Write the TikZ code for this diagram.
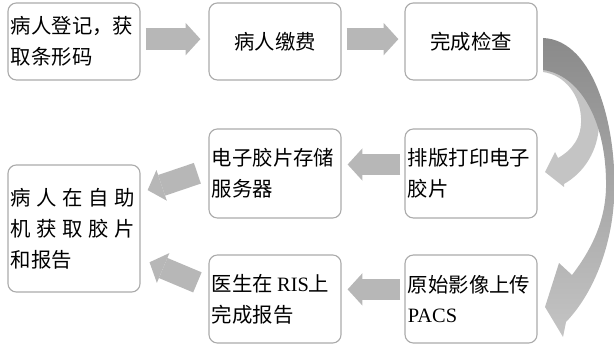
\documentclass[tikz,border=0pt]{standalone}
\usepackage{fontspec}
\setmainfont{Liberation Serif}
\newfontfamily\cjk{Noto Sans CJK SC}
\usetikzlibrary{arrows.meta}

\definecolor{boxgray}{HTML}{ABABAB}
\definecolor{arrowgray}{HTML}{B7B7B7}
\definecolor{curvedark}{HTML}{8A8A8A}
\definecolor{curvelight}{HTML}{C4C4C4}

\begin{document}
\begin{tikzpicture}[x=0.025cm, y=-0.025cm,
    stepbox/.style={draw=boxgray, line width=0.8pt, rounded corners=6pt,
        minimum width=3.3cm, text width=3.15cm, inner xsep=0.075cm,
        align=left, font=\cjk\fontsize{14.5}{22}\selectfont},
    blockarr/.style={draw=arrowgray, line width=15.5pt,
        -{Triangle[length=10.5pt, width=23pt, line width=0pt]}}]
    \useasboundingbox (0,0) rectangle (615,346);

    % top row
    \node[stepbox, minimum height=1.925cm] (reg) at (74,41.5) {病人登记，获\\取条形码};
    \node[stepbox, minimum height=1.925cm, align=center] (pay) at (275,41.5) {病人缴费};
    \node[stepbox, minimum height=1.925cm, align=center] (exam) at (471,41.5) {完成检查};

    % middle and bottom rows
    \node[stepbox, minimum height=2.225cm] (store) at (275,173.5) {电子胶片存储\\服务器};
    \node[stepbox, minimum height=2.225cm] (print) at (471,173.5) {排版打印电子\\胶片};
    \node[stepbox, minimum height=2.2cm] (report) at (275,299) {医生在\hspace{0.2em}{\rmfamily RIS}上\\完成报告};
    \node[stepbox, minimum height=2.2cm] (upload) at (471,299) {原始影像上传\\{\rmfamily PACS}};

    \node[stepbox, minimum height=3.175cm] (kiosk) at (74,228.5)
        {\makebox[3.1cm][l]{病\hfill 人\hfill 在\hfill 自\hfill 助}\\
         \makebox[3.1cm][l]{机\hfill 获\hfill 取\hfill 胶\hfill 片}\\和报告};

    % straight block arrows
    \draw[blockarr, shorten <=3.6pt, shorten >=5.7pt] ([yshift=0.06cm]reg.east) -- ([yshift=0.06cm]pay.west);
    \draw[blockarr, shorten <=3.6pt, shorten >=4.3pt] ([yshift=0.06cm]pay.east) -- ([yshift=0.06cm]exam.west);
    \draw[blockarr, shorten <=2.9pt, shorten >=4.3pt] ([yshift=0.225cm]print.west) -- ([yshift=0.225cm]store.east);
    \draw[blockarr, shorten <=2.9pt, shorten >=4.3pt] ([yshift=0.24cm]upload.west) -- ([yshift=0.24cm]report.east);
    \draw[blockarr, shorten <=8.3pt, shorten >=5.3pt] ([yshift=0.1cm]store.west) -- ([yshift=0.9cm]kiosk.east);
    \draw[blockarr, shorten <=8.5pt, shorten >=6.9pt] ([yshift=0.3cm]report.west) -- ([yshift=-0.75cm]kiosk.east);

    % curved arrows out of the exam box
    \fill[curvelight] (543,60) .. controls (580,62) and (600,95) .. (599,125)
        .. controls (598,150) and (585,172) .. (564,184) -- (564,187) -- (545,172) -- (555,152)
        -- (558,158) .. controls (572,150) and (582,138) .. (581,118)
        .. controls (580,95) and (565,75) .. (543,72) -- cycle;
    \shade[top color=curvedark, middle color=curvedark, bottom color=curvelight]
        (543,38) .. controls (595,40) and (618,130) .. (614,200)
        .. controls (611,250) and (592,295) .. (566,322) -- (563,337) -- (545,307) -- (559,263)
        -- (572,275) .. controls (595,245) and (607,215) .. (606,180)
        .. controls (605,120) and (580,75) .. (543,70) -- cycle;
\end{tikzpicture}
\end{document}
